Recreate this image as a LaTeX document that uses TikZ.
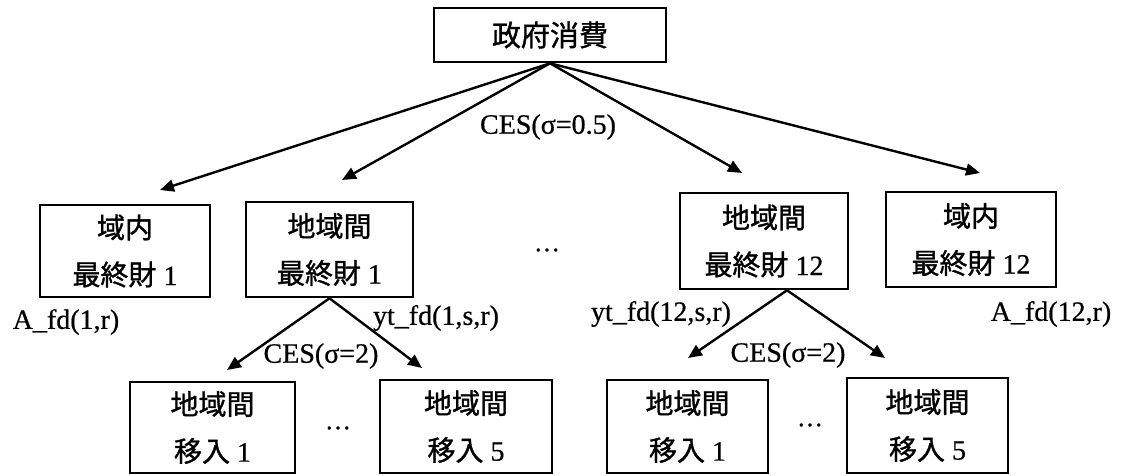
\documentclass[tikz,border=0pt]{standalone}
\usepackage{fontspec}
\setmainfont[FakeBold=0.6]{Liberation Serif}
\newfontfamily\cjk[FakeBold=1.2]{Noto Sans CJK JP}
\usetikzlibrary{arrows.meta,calc}
\begin{document}
\begin{tikzpicture}[x=1pt,y=-1pt,
  box/.style={draw,line width=2.6pt,inner sep=0pt,align=center,font=\fontsize{28}{47}\selectfont},
  conn/.style={line width=2.4pt,-{Triangle[length=14pt,width=12pt]}},
  lbl/.style={inner sep=0pt,font=\fontsize{28}{30}\selectfont},
  ell/.style={inner sep=0pt,font=\fontsize{26}{28}\selectfont}]
\useasboundingbox (0,0) rectangle (1122,476);
% boxes
\node[box,minimum width=232pt,minimum height=54pt,font=\fontsize{29}{32}\selectfont] (top) at (550,35) {\cjk 政府消費};
\node[box,minimum width=170pt,minimum height=92pt] (A) at (125,251) {{\cjk 域内}\\{\cjk 最終財} 1};
\node[box,minimum width=167pt,minimum height=95pt] (B) at (329.5,249.5) {{\cjk 地域間}\\{\cjk 最終財} 1};
\node[box,minimum width=168pt,minimum height=96pt] (C) at (764,241) {{\cjk 地域間}\\{\cjk 最終財} 12};
\node[box,minimum width=170pt,minimum height=95pt] (D) at (971,239.5) {{\cjk 域内}\\{\cjk 最終財} 12};
\node[box,minimum width=165pt,minimum height=91pt] (E) at (212.5,427.5) {{\cjk 地域間}\\{\cjk 移入} 1};
\node[box,minimum width=172pt,minimum height=93pt] (F) at (466,426.5) {{\cjk 地域間}\\{\cjk 移入} 5};
\node[box,minimum width=161pt,minimum height=93pt] (G) at (687.5,426.5) {{\cjk 地域間}\\{\cjk 移入} 1};
\node[box,minimum width=161pt,minimum height=95pt] (H) at (927.5,425.5) {{\cjk 地域間}\\{\cjk 移入} 5};
% arrow tips
\coordinate (tA) at (160,190);
\coordinate (tB) at (342,180);
\coordinate (tC) at (742,173);
\coordinate (tD) at (980,173);
\coordinate (tE) at (227,370);
\coordinate (tF) at (422,368);
\coordinate (Cap) at ($(C.south)+(23,0)$);
\coordinate (tG) at (688,358);
\coordinate (tH) at (885,358);
% connectors
\draw[conn] (top.south) -- (tA);
\draw[conn] (top.south) -- (tB);
\draw[conn] (top.south) -- (tC);
\draw[conn] (top.south) -- (tD);
\draw[conn] (B.south) -- (tE);
\draw[conn] (B.south) -- (tF);
\draw[conn] (Cap) -- (tG);
\draw[conn] (Cap) -- (tH);
% labels
\node[lbl] (l1) at (548,127) {CES(σ=0.5)};
\node[lbl] (l2) at (66,322) {A\_fd(1,r)};
\node[lbl] (l3) at (436,318) {yt\_fd(1,s,r)};
\node[lbl] (l4) at (321,356) {CES(σ=2)};
\node[lbl] (l5) at (661,314) {yt\_fd(12,s,r)};
\node[lbl] (l6) at (788,355) {CES(σ=2)};
\node[lbl] (l7) at (1051,314) {A\_fd(12,r)};
\node[ell] (d1) at (547,250) {…};
\node[ell] (d2) at (338,428) {…};
\node[ell] (d3) at (810,425) {…};
\end{tikzpicture}
\end{document}
